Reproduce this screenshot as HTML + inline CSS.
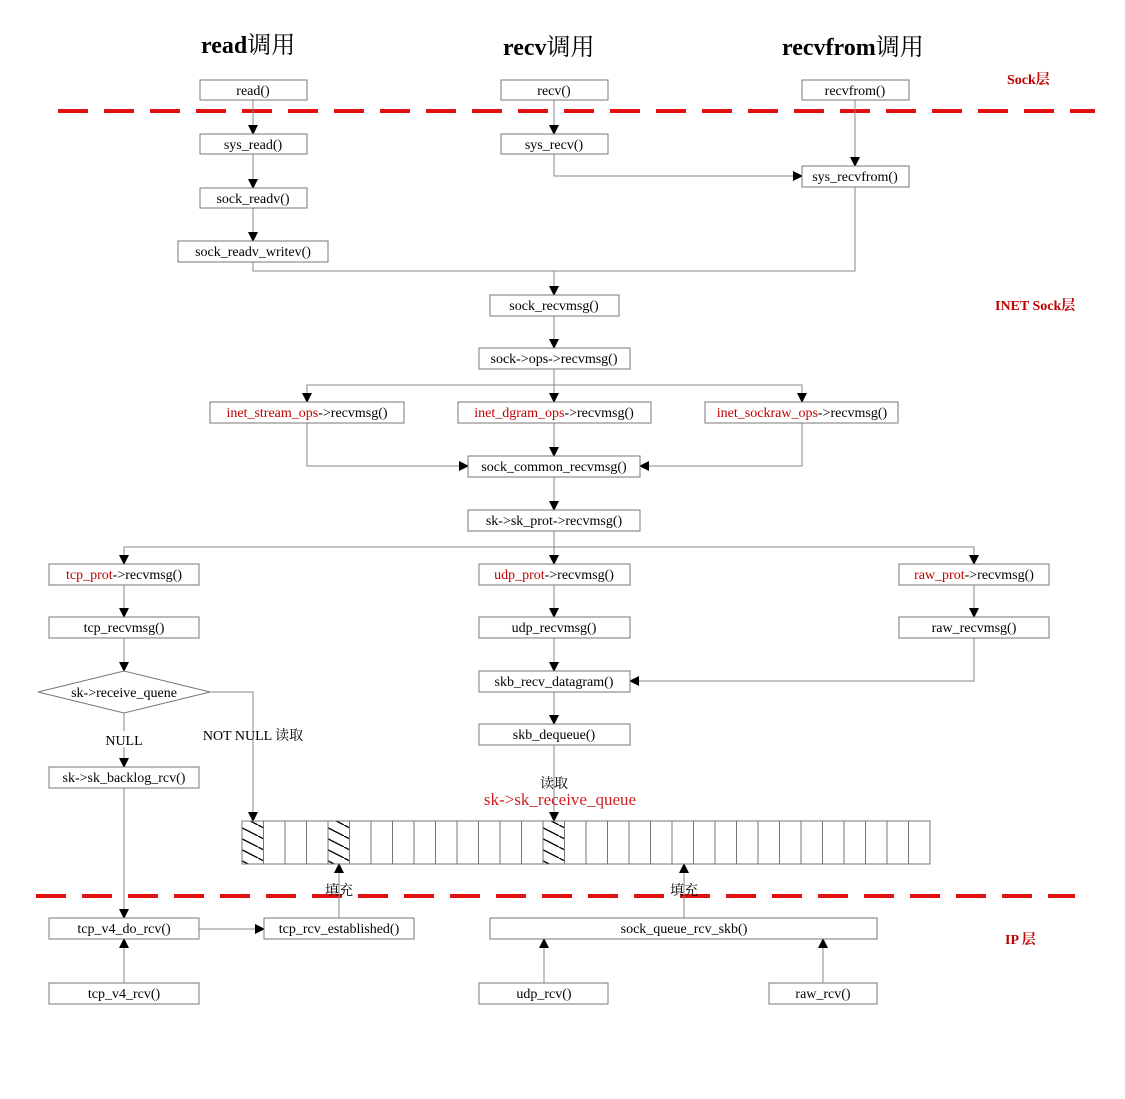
<!DOCTYPE html>
<html><head><meta charset="utf-8"><style>
body{margin:0;background:#fff;}
svg text{font-family:"Liberation Serif","Noto Serif CJK SC","Noto Sans CJK SC",serif;}
</style></head><body>
<svg width="1125" height="1094" viewBox="0 0 1125 1094" xmlns="http://www.w3.org/2000/svg">
<defs>
<marker id="a" markerWidth="10" markerHeight="10" refX="9" refY="5" orient="auto" markerUnits="userSpaceOnUse">
<path d="M0,0 L10,5 L0,10 z" fill="#000"/></marker>
<pattern id="h" width="21.5" height="11" patternUnits="userSpaceOnUse">
<path d="M0,0 L21.5,11" stroke="#000" stroke-width="1.3"/></pattern>
</defs>
<rect width="1125" height="1094" fill="#fff"/>
<g font-weight="bold" font-size="24">
<text x="201" y="53">read<tspan font-weight="normal">调用</tspan></text>
<text x="503" y="55">recv<tspan font-weight="normal">调用</tspan></text>
<text x="782" y="55">recvfrom<tspan font-weight="normal">调用</tspan></text>
</g>
<g fill="#c00000" font-weight="bold" font-size="14">
<text x="1007" y="84">Sock层</text>
<text x="995" y="310">INET Sock层</text>
<text x="1005" y="944">IP 层</text>
</g>
<g stroke="#e01010" stroke-width="4" stroke-dasharray="30,16" fill="none">
<line x1="58" y1="111" x2="1095" y2="111"/>
<line x1="36" y1="896" x2="1075" y2="896"/>
</g>
<g stroke="#888" stroke-width="1" fill="none" marker-end="url(#a)">
<line x1="253" y1="100" x2="253" y2="134"/>
<line x1="554" y1="100" x2="554" y2="134"/>
<line x1="855" y1="100" x2="855" y2="166"/>
<line x1="253" y1="154" x2="253" y2="188"/>
<line x1="253" y1="208" x2="253" y2="241"/>
<polyline points="554,154 554,176 802,176"/>
<line x1="554" y1="271" x2="554" y2="295"/>
<line x1="554" y1="316" x2="554" y2="348"/>
<polyline points="554,369 554,385 307,385 307,402"/>
<line x1="554" y1="385" x2="554" y2="402"/>
<polyline points="554,385 802,385 802,402"/>
<polyline points="307,423 307,466 468,466"/>
<line x1="554" y1="423" x2="554" y2="456"/>
<polyline points="802,423 802,466 640,466"/>
<line x1="554" y1="477" x2="554" y2="510"/>
<polyline points="554,531 554,547 124,547 124,564"/>
<line x1="554" y1="547" x2="554" y2="564"/>
<polyline points="554,547 974,547 974,564"/>
<line x1="124" y1="585" x2="124" y2="617"/>
<line x1="554" y1="585" x2="554" y2="617"/>
<line x1="974" y1="585" x2="974" y2="617"/>
<line x1="124" y1="638" x2="124" y2="671"/>
<line x1="554" y1="638" x2="554" y2="671"/>
<polyline points="974,638 974,681 630,681"/>
<polyline points="210,692 253,692 253,821"/>
<line x1="124" y1="713" x2="124" y2="767"/>
<line x1="554" y1="692" x2="554" y2="724"/>
<line x1="554" y1="745" x2="554" y2="821"/>
<line x1="124" y1="788" x2="124" y2="918"/>
<line x1="124" y1="983" x2="124" y2="939"/>
<line x1="199" y1="929" x2="264" y2="929"/>
<line x1="339" y1="918" x2="339" y2="864"/>
<line x1="684" y1="918" x2="684" y2="864"/>
<line x1="544" y1="983" x2="544" y2="939"/>
<line x1="823" y1="983" x2="823" y2="939"/>
</g>
<g stroke="#888" fill="none"><polyline points="253,262 253,271 855,271 855,187"/></g>
<g stroke="#777" fill="#fff" stroke-width="1">
<rect x="200" y="80" width="107" height="20"/>
<rect x="501" y="80" width="107" height="20"/>
<rect x="802" y="80" width="107" height="20"/>
<rect x="200" y="134" width="107" height="20"/>
<rect x="501" y="134" width="107" height="20"/>
<rect x="802" y="166" width="107" height="21"/>
<rect x="200" y="188" width="107" height="20"/>
<rect x="178" y="241" width="150" height="21"/>
<rect x="490" y="295" width="129" height="21"/>
<rect x="479" y="348" width="151" height="21"/>
<rect x="210" y="402" width="194" height="21"/>
<rect x="458" y="402" width="193" height="21"/>
<rect x="705" y="402" width="193" height="21"/>
<rect x="468" y="456" width="172" height="21"/>
<rect x="468" y="510" width="172" height="21"/>
<rect x="49" y="564" width="150" height="21"/>
<rect x="479" y="564" width="151" height="21"/>
<rect x="899" y="564" width="150" height="21"/>
<rect x="49" y="617" width="150" height="21"/>
<rect x="479" y="617" width="151" height="21"/>
<rect x="899" y="617" width="150" height="21"/>
<polygon points="38,692 124,671 210,692 124,713"/>
<rect x="479" y="671" width="151" height="21"/>
<rect x="479" y="724" width="151" height="21"/>
<rect x="49" y="767" width="150" height="21"/>
<rect x="49" y="918" width="150" height="21"/>
<rect x="264" y="918" width="150" height="21"/>
<rect x="490" y="918" width="387" height="21"/>
<rect x="49" y="983" width="150" height="21"/>
<rect x="479" y="983" width="129" height="21"/>
<rect x="769" y="983" width="108" height="21"/>
</g>
<g stroke="#777" fill="none">
<rect x="242" y="821" width="688" height="43"/>
<rect x="242" y="821" width="21.5" height="43" fill="url(#h)"/>
<rect x="328" y="821" width="21.5" height="43" fill="url(#h)"/>
<rect x="543" y="821" width="21.5" height="43" fill="url(#h)"/>
<path d="M263.5,821v43M285,821v43M306.5,821v43M328,821v43M349.5,821v43M371,821v43M392.5,821v43M414,821v43M435.5,821v43M457,821v43M478.5,821v43M500,821v43M521.5,821v43M543,821v43M564.5,821v43M586,821v43M607.5,821v43M629,821v43M650.5,821v43M672,821v43M693.5,821v43M715,821v43M736.5,821v43M758,821v43M779.5,821v43M801,821v43M822.5,821v43M844,821v43M865.5,821v43M887,821v43M908.5,821v43"/>
</g>
<g font-size="14" text-anchor="middle" fill="#000">
<text x="253" y="95">read()</text>
<text x="554" y="95">recv()</text>
<text x="855" y="95">recvfrom()</text>
<text x="253" y="149">sys_read()</text>
<text x="554" y="149">sys_recv()</text>
<text x="855" y="181">sys_recvfrom()</text>
<text x="253" y="203">sock_readv()</text>
<text x="253" y="256">sock_readv_writev()</text>
<text x="554" y="310">sock_recvmsg()</text>
<text x="554" y="363">sock-&gt;ops-&gt;recvmsg()</text>
<text x="307" y="417"><tspan fill="#c00000">inet_stream_ops</tspan>-&gt;recvmsg()</text>
<text x="554" y="417"><tspan fill="#c00000">inet_dgram_ops</tspan>-&gt;recvmsg()</text>
<text x="802" y="417"><tspan fill="#c00000">inet_sockraw_ops</tspan>-&gt;recvmsg()</text>
<text x="554" y="471">sock_common_recvmsg()</text>
<text x="554" y="525">sk-&gt;sk_prot-&gt;recvmsg()</text>
<text x="124" y="579"><tspan fill="#c00000">tcp_prot</tspan>-&gt;recvmsg()</text>
<text x="554" y="579"><tspan fill="#c00000">udp_prot</tspan>-&gt;recvmsg()</text>
<text x="974" y="579"><tspan fill="#c00000">raw_prot</tspan>-&gt;recvmsg()</text>
<text x="124" y="632">tcp_recvmsg()</text>
<text x="554" y="632">udp_recvmsg()</text>
<text x="974" y="632">raw_recvmsg()</text>
<text x="124" y="697">sk-&gt;receive_quene</text>
<text x="554" y="686">skb_recv_datagram()</text>
<text x="554" y="739">skb_dequeue()</text>
<text x="124" y="782">sk-&gt;sk_backlog_rcv()</text>
<text x="124" y="933">tcp_v4_do_rcv()</text>
<text x="339" y="933">tcp_rcv_established()</text>
<text x="684" y="933">sock_queue_rcv_skb()</text>
<text x="124" y="998">tcp_v4_rcv()</text>
<text x="544" y="998">udp_rcv()</text>
<text x="823" y="998">raw_rcv()</text>
<rect x="100" y="731" width="48" height="16" fill="#fff"/>
<text x="124" y="745">NULL</text>
<text x="253" y="740">NOT  NULL  读取</text>
<text x="554" y="788">读取</text>
<text x="560" y="805" fill="#d02020" font-size="17">sk-&gt;sk_receive_queue</text>
<text x="339" y="895">填充</text>
<text x="684" y="895">填充</text>
</g>
</svg>
</body></html>
